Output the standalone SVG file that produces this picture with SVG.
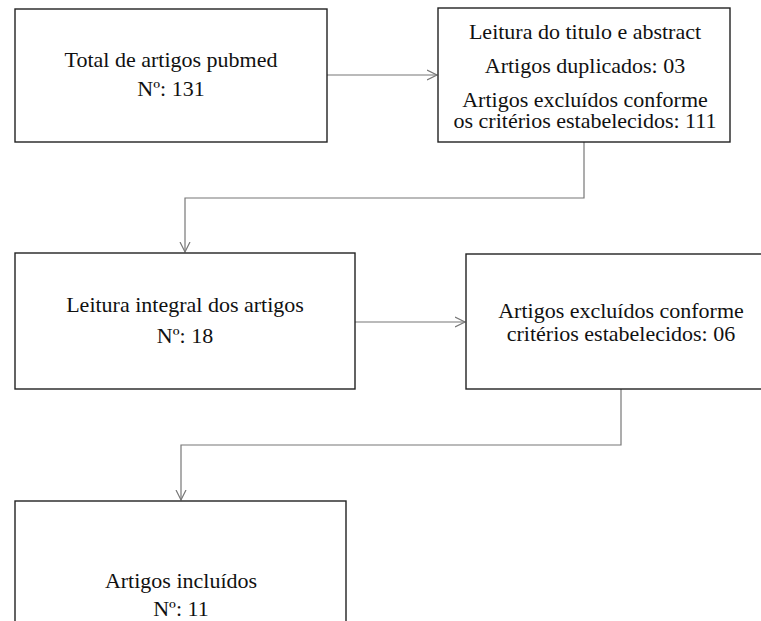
<svg xmlns="http://www.w3.org/2000/svg" width="761" height="621" viewBox="0 0 761 621">
<style>
.box{fill:#fff;stroke:#222;stroke-width:1.4}
.t{font-family:"Liberation Serif","Times New Roman",serif;font-size:22px;fill:#111;text-anchor:middle}
.c{fill:none;stroke:#777;stroke-width:1.2}
</style>
<defs>
<marker id="ah" markerWidth="12" markerHeight="12" refX="10" refY="6" orient="auto" markerUnits="userSpaceOnUse">
<path d="M0,1 L10,6 L0,11" fill="none" stroke="#777" stroke-width="1.2"/>
</marker>
</defs>
<rect width="761" height="621" fill="#fff"/>
<g id="connectors">
<path class="c" d="M327,75 H437" marker-end="url(#ah)"/>
<path class="c" d="M584,142 V198 H185 V252" marker-end="url(#ah)"/>
<path class="c" d="M355,322 H465" marker-end="url(#ah)"/>
<path class="c" d="M621,389 V445 H181 V500" marker-end="url(#ah)"/>
</g>
<g id="n1">
<rect class="box" x="15" y="9" width="312" height="133"/>
<text class="t" x="171" y="67">Total de artigos pubmed</text>
<text class="t" x="171" y="96">Nº: 131</text>
</g>
<g id="n2">
<rect class="box" x="438" y="8" width="292" height="134"/>
<text class="t" x="585" y="39">Leitura do titulo e abstract</text>
<text class="t" x="585" y="73">Artigos duplicados: 03</text>
<text class="t" x="585" y="107">Artigos excluídos conforme</text>
<text class="t" x="585" y="128">os critérios estabelecidos: 111</text>
</g>
<g id="n3">
<rect class="box" x="15" y="253" width="340" height="136"/>
<text class="t" x="185" y="312">Leitura integral dos artigos</text>
<text class="t" x="185" y="343">Nº: 18</text>
</g>
<g id="n4">
<rect class="box" x="466" y="254" width="310" height="135"/>
<text class="t" x="621" y="318">Artigos excluídos conforme</text>
<text class="t" x="621" y="341">critérios estabelecidos: 06</text>
</g>
<g id="n5">
<rect class="box" x="15" y="501" width="331" height="140"/>
<text class="t" x="181" y="588">Artigos incluídos</text>
<text class="t" x="181" y="616">Nº: 11</text>
</g>
</svg>
